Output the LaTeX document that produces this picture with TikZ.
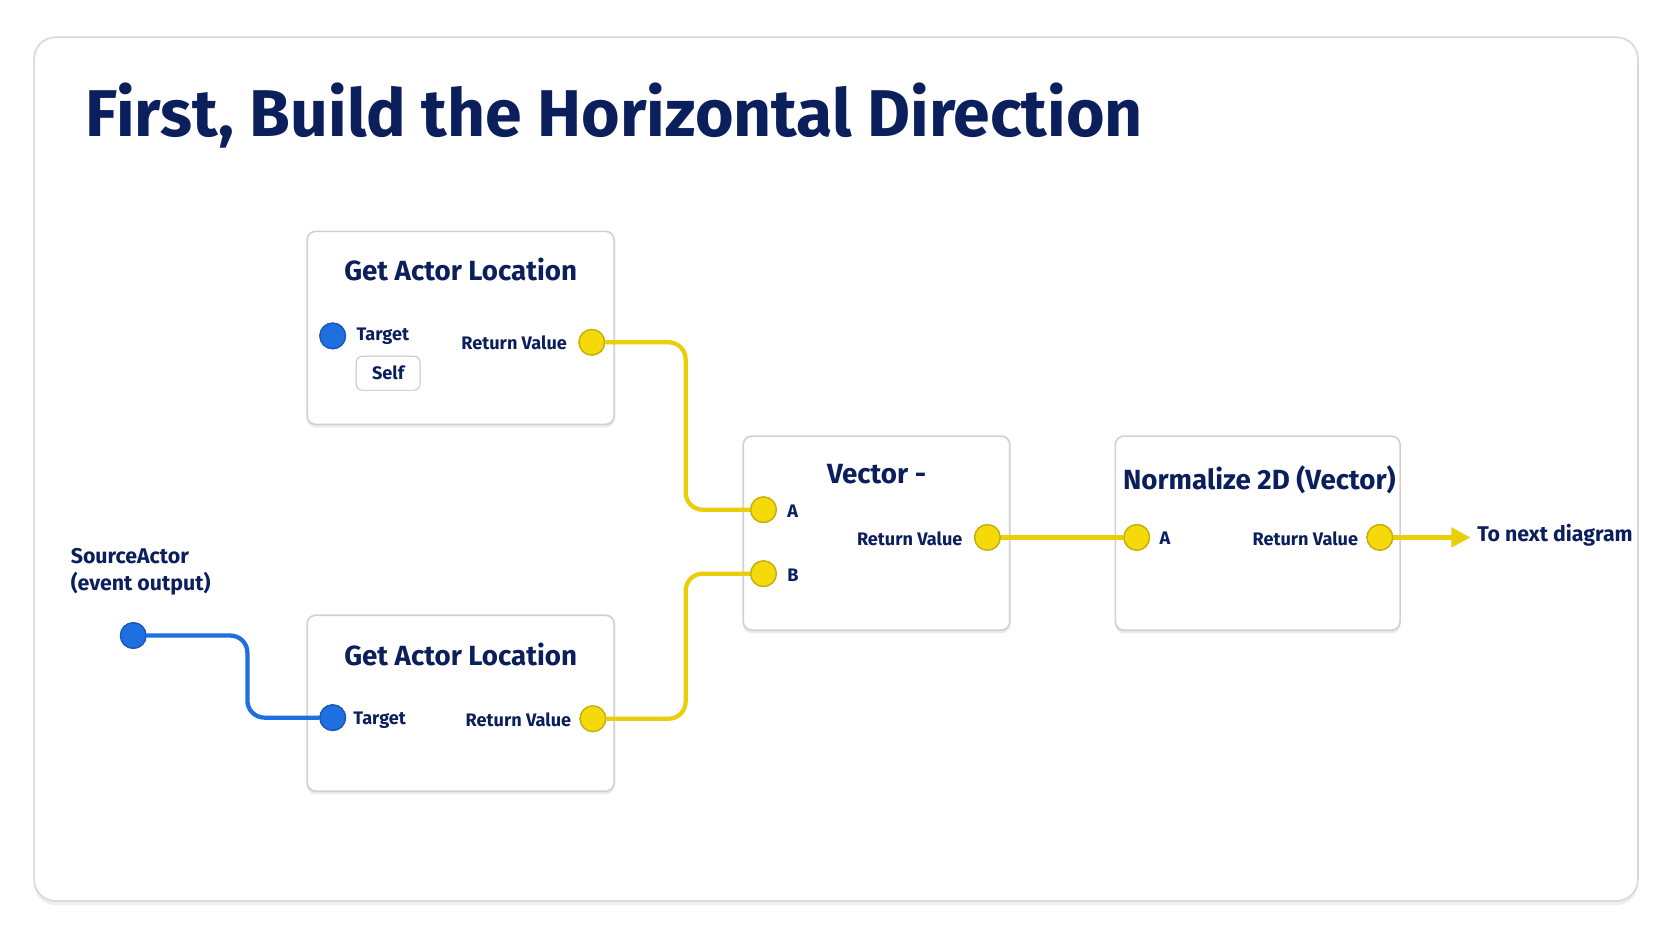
\documentclass[tikz,border=0pt]{standalone}
\usepackage{fontspec}
\setmainfont{Fira Sans}
\usetikzlibrary{shadows,arrows.meta}
\definecolor{navy}{HTML}{0B1F5C}
\definecolor{pinyel}{HTML}{F5D90A}
\definecolor{pinblue}{HTML}{1E6FE0}
\tikzset{
  card/.style={draw=black!18, line width=0.8pt, rounded corners=4pt, fill=white,
    drop shadow={shadow xshift=0pt, shadow yshift=-1.5pt, opacity=0.15}},
  ttl/.style={font=\fontsize{13}{15}\selectfont\bfseries, text=navy},
  lbl/.style={font=\fontsize{8.5}{10}\selectfont\bfseries, text=navy, inner sep=0pt},
  ypin/.style={circle, fill=pinyel, draw=pinyel!80!black, line width=0.6pt, minimum size=12pt, inner sep=0pt},
  bpin/.style={circle, fill=pinblue, draw=pinblue!80!black, line width=0.6pt, minimum size=12pt, inner sep=0pt},
  ywire/.style={draw=pinyel!95!black, line width=2pt, rounded corners=8pt},
  bwire/.style={draw=pinblue, line width=2pt, rounded corners=8pt},
}
\begin{document}
\begin{tikzpicture}[x=0.5pt,y=-0.5pt]
  \useasboundingbox (0,0) rectangle (1568,882);
  \fill[white] (0,0) rectangle (1568,882);
  \draw[draw=black!15, line width=0.8pt, rounded corners=10pt, fill=white,
    drop shadow={shadow xshift=0pt, shadow yshift=-2pt, opacity=0.12}] (32,35) rectangle (1536,845);
  \node[anchor=west, font=\fontsize{31}{34}\selectfont\bfseries, text=navy, inner sep=0pt] (title) at (80,108) {First, Build the Horizontal Direction};

  % cards
  \draw[card] (288,217) rectangle (576,398);
  \draw[card] (288,577) rectangle (576,742);
  \draw[card] (697,409) rectangle (947,591);
  \draw[card] (1046,409) rectangle (1313,591);

  % Get Actor Location (top)
  \node[ttl] (gal1) at (432,253) {Get Actor Location};
  \node[bpin] (gal1t) at (312,315) {};
  \node[lbl, anchor=west] (gal1tl) at (334,315) {Target};
  \node[lbl, draw=black!25, rounded corners=3pt, fill=white, minimum width=30pt, minimum height=16pt] (self) at (364,350) {Self};
  \node[ypin] (gal1r) at (555,321) {};
  \node[lbl, anchor=east] (gal1rl) at (532,321) {Return Value};

  % Get Actor Location (bottom)
  \node[ttl] (gal2) at (432,614) {Get Actor Location};
  \node[bpin] (gal2t) at (312,673) {};
  \node[lbl, anchor=west] (gal2tl) at (331,675) {Target};
  \node[ypin] (gal2r) at (556,674) {};
  \node[lbl, anchor=east] (gal2rl) at (536,675) {Return Value};

  % Vector -
  \node[ttl] (vsub) at (822,445) {Vector -};
  \node[ypin] (va) at (716,478) {};
  \node[lbl, anchor=west] (val) at (738,479) {A};
  \node[ypin] (vb) at (716,538) {};
  \node[lbl, anchor=west] (vbl) at (738,539) {B};
  \node[ypin] (vr) at (926,504) {};
  \node[lbl, anchor=east] (vrl) at (903,505) {Return Value};

  % Normalize 2D
  \node[ttl] (norm) at (1181,450) {Normalize 2D (Vector)};
  \node[ypin] (na) at (1066,504) {};
  \node[lbl, anchor=west] (nal) at (1087,505) {A};
  \node[ypin] (nr) at (1294,504) {};
  \node[lbl, anchor=east] (nrl) at (1274,505) {Return Value};

  % source
  \node[lbl, anchor=west, align=left, font=\fontsize{10}{12.5}\selectfont\bfseries] (srcl) at (66,536) {SourceActor\\(event output)};
  \node[bpin] (src) at (125,596) {};
  \node[lbl, anchor=west, font=\fontsize{10}{12}\selectfont\bfseries] (next) at (1385,502) {To next diagram};

  \coordinate (k1) at (643,400);
  \coordinate (k2) at (643,606);
  \coordinate (k3) at (232,634);
  \coordinate (tip) at (1379,504);

  % wires
  \draw[ywire] (gal1r) -| (k1) |- (va);
  \draw[ywire] (gal2r) -| (k2) |- (vb);
  \draw[ywire] (vr) -- (na);
  \draw[ywire, -{Triangle[length=9pt,width=9pt]}] (nr) -- (tip);
  \draw[bwire] (src) -| (k3) |- (gal2t);

  % pins on top of wires
  \foreach \p in {gal1r,gal2r,va,vb,vr,na,nr}
    \node[ypin] at (\p) {};
  \foreach \p in {gal1t,gal2t,src}
    \node[bpin] at (\p) {};
\end{tikzpicture}
\end{document}
